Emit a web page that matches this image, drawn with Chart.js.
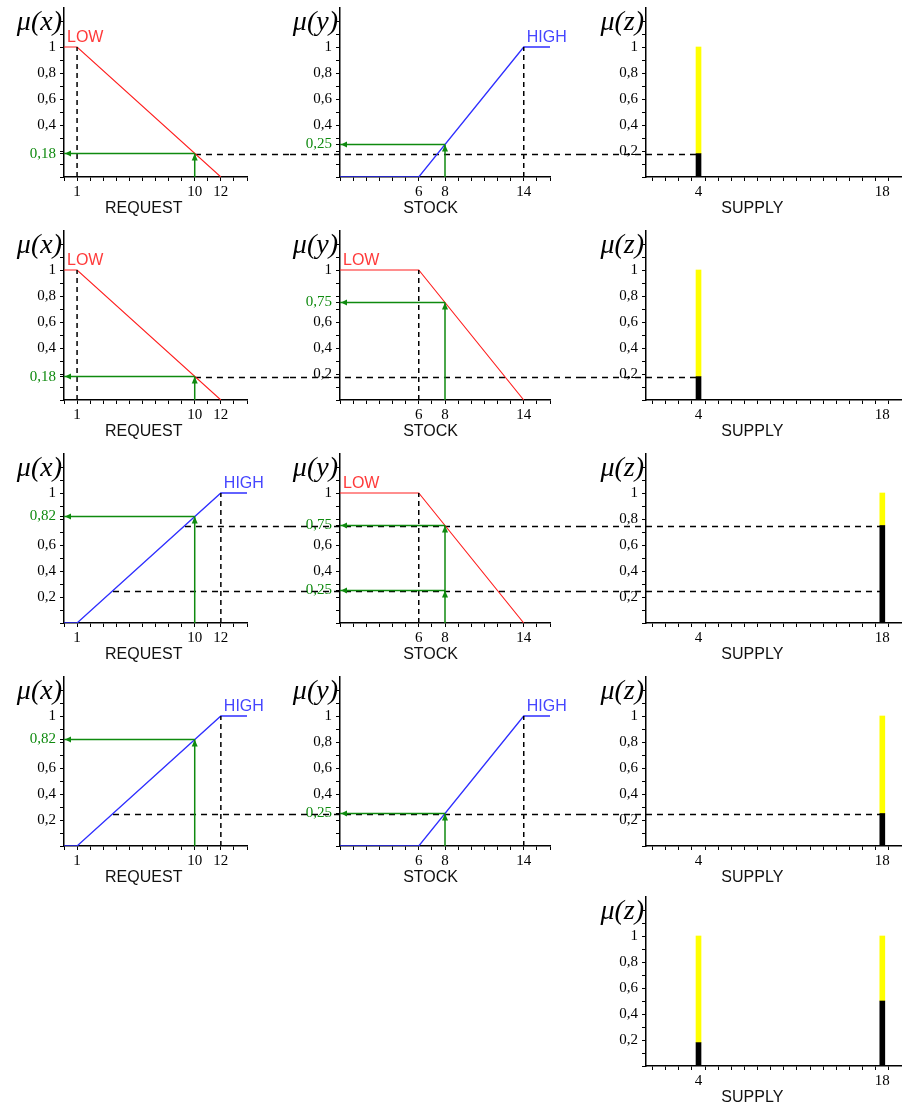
<!DOCTYPE html>
<html>
<head>
<meta charset="utf-8">
<script src="https://cdn.jsdelivr.net/npm/chart.js@4.4.1/dist/chart.umd.min.js"></script>
<style>
  body { margin: 0; background: #fff; }
  #page { position: relative; width: 902px; height: 1106px; }
  #page canvas { position: absolute; }
</style>
</head>
<body>
<div id="page"></div>
<script>
// Membership functions (breakpoints)
const requestLowX = [0, 1, 12];
const requestLowY = [1, 1, 0];
const requestHighX = [0, 1, 12, 14];
const requestHighY = [0, 0, 1, 1];
const stockLowX = [0, 6, 14];
const stockLowY = [1, 1, 0];
const stockHighX = [0, 6, 14, 16];
const stockHighY = [0, 0, 1, 1];

// Crisp inputs
const requestInput = 10;
const stockInput = 8;

// Tick labels on the x axes
const requestTicks = [1, 10, 12];
const stockTicks = [6, 8, 14];
const supplyTicks = [4, 18];
const muTicks = [0.2, 0.4, 0.6, 0.8, 1];

// One entry per rule row
const ruleRequestSets = ['LOW', 'LOW', 'HIGH', 'HIGH'];
const ruleStockSets = ['HIGH', 'LOW', 'LOW', 'HIGH'];
const requestDegrees = [[0.18], [0.18], [0.82], [0.82]];
const stockDegrees = [[0.25], [0.75], [0.75, 0.25], [0.25]];
const ruleLevels = [[0.18], [0.18], [0.75, 0.25], [0.25]];
const ruleSupplyX = [4, 4, 18, 18];

// Aggregated output (last row)
const aggregateX = [4, 18];
const aggregateY = [0.18, 0.5];

const GREEN = '#0f8a0f';
const setColors = { LOW: '#ff1f1f', HIGH: '#2f2fff' };
const labelColors = { LOW: '#ff3a3a', HIGH: '#4646ff' };
const requestSets = { LOW: [requestLowX, requestLowY], HIGH: [requestHighX, requestHighY] };
const stockSets = { LOW: [stockLowX, stockLowY], HIGH: [stockHighX, stockHighY] };

const rowTops = [0, 223, 446, 669, 889];
const columns = [
    { left: 0, width: 290, axisWidth: 64, padRight: 43, xMax: 14, variable: 'x', title: 'REQUEST', titleAt: 6.1, ticks: requestTicks },
    { left: 290, width: 290, axisWidth: 50, padRight: 30, xMax: 16, variable: 'y', title: 'STOCK', titleAt: 6.9, ticks: stockTicks },
    { left: 580, width: 322, axisWidth: 66, padRight: 0, xMax: 19.5, variable: 'z', title: 'SUPPLY', titleAt: 8.1, ticks: supplyTicks }
];

function near(a, b) { return Math.abs(a - b) < 1e-6; }
function fmt(v) { return String(Math.round(v * 100) / 100).replace('.', ','); }
function points(xs, ys) { return xs.map((x, i) => ({ x: x, y: ys[i] })); }

// x where a membership line crosses a level (on its sloped part)
function levelX(xs, ys, v) {
    for (let i = 0; i < xs.length - 1; i++) {
        if (ys[i] !== ys[i + 1] && v >= Math.min(ys[i], ys[i + 1]) && v <= Math.max(ys[i], ys[i + 1])) {
            return xs[i] + (v - ys[i]) * (xs[i + 1] - xs[i]) / (ys[i + 1] - ys[i]);
        }
    }
    return 0;
}
// plateau corner next to the slope
function cornerX(xs, ys) {
    for (let i = 0; i < xs.length; i++) {
        if (ys[i] === 1 && ((i > 0 && ys[i - 1] < 1) || (i < xs.length - 1 && ys[i + 1] < 1))) return xs[i];
    }
    return 0;
}

// Draws the dashed links, arrow heads and the text around each panel
const fuzzyPlugin = {
    id: 'fuzzy',
    beforeDatasetsDraw(chart, args, o) {
        const { ctx, scales: { x, y } } = chart;
        ctx.save();
        ctx.strokeStyle = '#000';
        ctx.lineWidth = 1.5;
        ctx.setLineDash([6, 5]);
        o.links.forEach(link => {
            const py = Math.round(y.getPixelForValue(link.y)) + 0.5;
            const x0 = link.from === null ? 0 : x.getPixelForValue(link.from);
            const x1 = link.to === null ? chart.width : x.getPixelForValue(link.to);
            ctx.beginPath();
            ctx.moveTo(x0, py);
            ctx.lineTo(x1, py);
            ctx.stroke();
        });
        ctx.restore();
    },
    afterDraw(chart, args, o) {
        const { ctx, chartArea, scales: { x, y } } = chart;
        ctx.save();
        // arrow heads
        ctx.fillStyle = GREEN;
        if (o.input !== null) {
            const px = x.getPixelForValue(o.input);
            const left = x.getPixelForValue(0);
            o.levels.forEach(v => {
                const py = y.getPixelForValue(v);
                ctx.beginPath();
                ctx.moveTo(left + 1, py);
                ctx.lineTo(left + 7, py - 3);
                ctx.lineTo(left + 7, py + 3);
                ctx.fill();
                ctx.beginPath();
                ctx.moveTo(px, py);
                ctx.lineTo(px - 3, py + 7);
                ctx.lineTo(px + 3, py + 7);
                ctx.fill();
            });
        }
        // mu label
        ctx.fillStyle = '#000';
        ctx.font = 'italic 28px "Liberation Serif"';
        ctx.textAlign = 'right';
        ctx.textBaseline = 'middle';
        ctx.fillText('\u03bc(' + o.variable + ')', chartArea.left - 2, chartArea.top + 15);
        // set name
        if (o.setName) {
            ctx.fillStyle = labelColors[o.setName];
            ctx.font = '16px "Liberation Sans"';
            ctx.textAlign = 'left';
            ctx.textBaseline = 'alphabetic';
            ctx.fillText(o.setName, x.getPixelForValue(o.setAt) + 3, y.getPixelForValue(1) - 5);
        }
        // axis title
        ctx.fillStyle = '#111';
        ctx.font = '16px "Liberation Sans"';
        ctx.textAlign = 'center';
        ctx.textBaseline = 'middle';
        ctx.fillText(o.title, x.getPixelForValue(o.titleAt), chartArea.bottom + 32);
        ctx.restore();
    }
};

function addCanvas(left, top, width, height) {
    const c = document.createElement('canvas');
    c.width = width;
    c.height = height;
    c.style.left = left + 'px';
    c.style.top = top + 'px';
    c.style.width = width + 'px';
    c.style.height = height + 'px';
    document.getElementById('page').appendChild(c);
    return c;
}

function lineSet(data, color, width, dash) {
    return {
        type: 'line',
        data: data,
        borderColor: color,
        borderWidth: width,
        borderDash: dash || [],
        pointRadius: 0,
        tension: 0,
        fill: false
    };
}

function barSet(xs, lows, highs, color) {
    return {
        type: 'bar',
        data: xs.map((x, i) => ({ x: x, y: [lows[i], highs[i]] })),
        backgroundColor: color,
        barThickness: 5,
        grouped: false,
        borderWidth: 0
    };
}

function makePanel(row, col, spec) {
    const c = columns[col];
    const canvas = addCanvas(c.left, rowTops[row], c.width, 217);
    const greens = spec.greens || [];
    const hidden = muTicks.filter(t => greens.some(g => Math.abs(g - t) < 0.07));

    new Chart(canvas.getContext('2d'), {
        type: 'line',
        data: { datasets: spec.datasets },
        plugins: [fuzzyPlugin],
        options: {
            responsive: false,
            animation: false,
            events: [],
            layout: { padding: { top: 8, right: c.padRight, left: 0, bottom: 0 } },
            plugins: {
                legend: { display: false },
                tooltip: { enabled: false },
                fuzzy: {
                    links: spec.links || [],
                    input: spec.input === undefined ? null : spec.input,
                    levels: greens,
                    variable: c.variable,
                    setName: spec.setName || null,
                    setAt: spec.setAt || 0,
                    title: c.title,
                    titleAt: c.titleAt
                }
            },
            scales: {
                x: {
                    type: 'linear',
                    min: 0,
                    max: c.xMax,
                    offset: false,
                    afterBuildTicks: s => {
                        const t = [];
                        for (let i = 0; i <= Math.floor(c.xMax); i++) t.push({ value: i });
                        s.ticks = t;
                    },
                    afterFit: s => { s.height = 40; s.paddingLeft = 0; s.paddingRight = 0; },
                    grid: { drawOnChartArea: false, tickLength: 4, color: '#000' },
                    border: { color: '#000', width: 1.5 },
                    ticks: {
                        autoSkip: false,
                        maxRotation: 0,
                        padding: 2,
                        color: '#000',
                        font: { family: 'Liberation Serif', size: 15 },
                        callback: v => c.ticks.includes(v) ? String(v) : ''
                    }
                },
                y: {
                    type: 'linear',
                    min: 0,
                    max: 1.3,
                    afterBuildTicks: s => {
                        const t = [];
                        for (let i = 0; i <= 12; i++) t.push({ value: i / 10 });
                        greens.forEach(g => t.push({ value: g }));
                        t.sort((a, b) => a.value - b.value);
                        s.ticks = t;
                    },
                    afterFit: s => { s.width = c.axisWidth; s.paddingTop = 0; s.paddingBottom = 0; },
                    grid: { drawOnChartArea: false, tickLength: 4, color: '#000' },
                    border: { color: '#000', width: 1.5 },
                    ticks: {
                        autoSkip: false,
                        padding: 4,
                        font: { family: 'Liberation Serif', size: 15 },
                        color: ctx => (ctx.tick && greens.some(g => near(g, ctx.tick.value))) ? GREEN : '#000',
                        callback: v => {
                            if (greens.some(g => near(g, v))) return fmt(v);
                            if (hidden.some(h => near(h, v))) return '';
                            return muTicks.some(m => near(m, v)) ? fmt(v) : '';
                        }
                    }
                }
            }
        }
    });
}

function inputPanel(row, col, sets, name, input, degrees) {
    const [xs, ys] = sets[name];
    const datasets = [];
    degrees.forEach(v => datasets.push(lineSet([{ x: 0, y: v }, { x: input, y: v }], GREEN, 1.5)));
    datasets.push(lineSet([{ x: input, y: 0 }, { x: input, y: Math.max(...degrees) }], GREEN, 1.5));
    const corner = cornerX(xs, ys);
    datasets.push(lineSet([{ x: corner, y: 0 }, { x: corner, y: 1 }], '#000', 1.5, [5, 4]));
    datasets.push(lineSet(points(xs, ys), setColors[name], name === 'HIGH' ? 1.3 : 1.1));

    let links;
    if (col === 0) {
        links = ruleLevels[row].map(v => ({ y: v, from: levelX(xs, ys, v), to: null }));
    } else {
        links = ruleLevels[row].map(v => ({ y: v, from: null, to: null }));
    }
    makePanel(row, col, {
        datasets: datasets,
        links: links,
        input: input,
        greens: degrees,
        setName: name,
        setAt: xs[ys.indexOf(1)]
    });
}

// Rule rows
for (let r = 0; r < 4; r++) {
    inputPanel(r, 0, requestSets, ruleRequestSets[r], requestInput, requestDegrees[r]);
    inputPanel(r, 1, stockSets, ruleStockSets[r], stockInput, stockDegrees[r]);
    const top = Math.max(...ruleLevels[r]);
    makePanel(r, 2, {
        datasets: [
            barSet([ruleSupplyX[r]], [0], [top], '#000'),
            barSet([ruleSupplyX[r]], [top], [1], '#ffff00')
        ],
        links: ruleLevels[r].map(v => ({ y: v, from: null, to: ruleSupplyX[r] }))
    });
}

// Aggregated output
makePanel(4, 2, {
    datasets: [
        barSet(aggregateX, aggregateX.map(() => 0), aggregateY, '#000'),
        barSet(aggregateX, aggregateY, aggregateX.map(() => 1), '#ffff00')
    ]
});
</script>
</body>
</html>
